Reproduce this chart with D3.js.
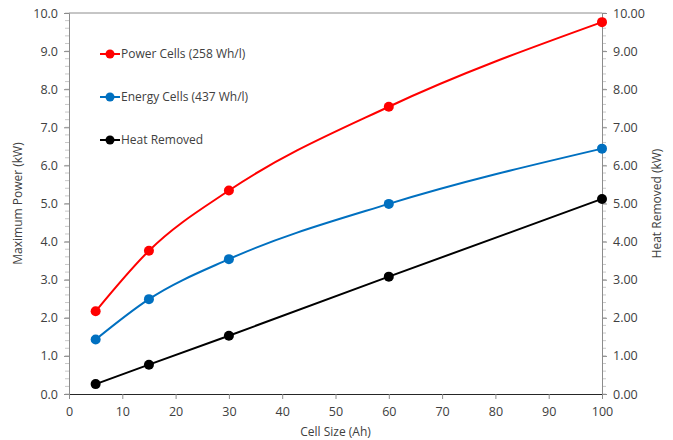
<!DOCTYPE html>
<html>
<head>
<meta charset="utf-8">
<script src="https://cdn.jsdelivr.net/npm/d3@7"></script>
<style>
  body { margin: 0; background: #fff; }
  text { font-family: "Open Sans", "Noto Sans", sans-serif; fill: #404040; }
</style>
</head>
<body>
<script>
const cellSize = [5, 15, 30, 60, 100];
const powerCells = [2.17, 3.76, 5.34, 7.54, 9.76];
const energyCells = [1.43, 2.49, 3.54, 4.99, 6.44];
const heatRemoved = [0.26, 0.77, 1.53, 3.08, 5.12];
const seriesNames = ["Power Cells (258 Wh/l)", "Energy Cells (437 Wh/l)", "Heat Removed"];

const width = 673, height = 440;
const margin = { top: 13, right: 71, bottom: 46, left: 69 };

const svg = d3.select("body").append("svg")
  .attr("width", width)
  .attr("height", height);

const x = d3.scaleLinear([0, 100], [margin.left, width - margin.right]);
const yL = d3.scaleLinear([0, 10], [height - margin.bottom, margin.top]);
const yR = d3.scaleLinear([0, 10], [height - margin.bottom, margin.top]);

// top border of plot area
svg.append("line")
  .attr("x1", x(0)).attr("x2", x(100))
  .attr("y1", yL(10)).attr("y2", yL(10))
  .attr("stroke", "#8c8c8c");

// minor ticks on both vertical axes
const minor = d3.range(0, 10.01, 0.2);
svg.append("g").selectAll("line").data(minor).join("line")
  .attr("x1", x(0) - 4).attr("x2", x(0))
  .attr("y1", d => yL(d)).attr("y2", d => yL(d))
  .attr("stroke", "#c8c8c8");
svg.append("g").selectAll("line").data(minor).join("line")
  .attr("x1", x(100)).attr("x2", x(100) + 4)
  .attr("y1", d => yR(d)).attr("y2", d => yR(d))
  .attr("stroke", "#c8c8c8");

const leftAxis = svg.append("g")
  .attr("transform", `translate(${x(0)},0)`)
  .call(d3.axisLeft(yL).ticks(10).tickFormat(d3.format(".1f")).tickSize(5).tickPadding(6));
const rightAxis = svg.append("g")
  .attr("transform", `translate(${x(100)},0)`)
  .call(d3.axisRight(yR).ticks(10).tickFormat(d3.format(".2f")).tickSize(5).tickPadding(6));
const bottomAxis = svg.append("g")
  .attr("transform", `translate(0,${yL(0)})`)
  .call(d3.axisBottom(x).ticks(10).tickSize(5).tickPadding(8));

[leftAxis, rightAxis].forEach(g => {
  g.select(".domain").attr("stroke", "#8c8c8c");
  g.selectAll(".tick line").attr("stroke", "#8c8c8c");
});
bottomAxis.select(".domain").attr("stroke", "#262626");
bottomAxis.selectAll(".tick line").attr("stroke", "#8c8c8c");
svg.selectAll(".tick text").attr("font-size", 12.5).attr("fill", "#404040")
  .attr("font-family", "Open Sans");

// axis titles
svg.append("text")
  .attr("transform", `translate(22,${(yL(0) + yL(10)) / 2}) rotate(-90)`)
  .attr("text-anchor", "middle")
  .attr("font-size", 12)
  .text("Maximum Power (kW)");
svg.append("text")
  .attr("transform", `translate(661,${(yL(0) + yL(10)) / 2}) rotate(-90)`)
  .attr("text-anchor", "middle")
  .attr("font-size", 12)
  .text("Heat Removed (kW)");
svg.append("text")
  .attr("x", (x(0) + x(100)) / 2)
  .attr("y", 436)
  .attr("text-anchor", "middle")
  .attr("font-size", 12)
  .text("Cell Size (Ah)");

const series = [
  { name: seriesNames[0], values: powerCells, color: "#ff0000", y: yL, curve: d3.curveMonotoneX },
  { name: seriesNames[1], values: energyCells, color: "#0070c0", y: yL, curve: d3.curveMonotoneX },
  { name: seriesNames[2], values: heatRemoved, color: "#000000", y: yR, curve: d3.curveLinear }
];

series.forEach(s => {
  const pts = cellSize.map((c, i) => [c, s.values[i]]);
  const line = d3.line()
    .x(d => x(d[0]))
    .y(d => s.y(d[1]))
    .curve(s.curve);

  svg.append("path")
    .attr("d", line(pts))
    .attr("fill", "none")
    .attr("stroke", s.color)
    .attr("stroke-width", 2);

  svg.append("g").selectAll("circle").data(pts).join("circle")
    .attr("cx", d => x(d[0]))
    .attr("cy", d => s.y(d[1]))
    .attr("r", 5)
    .attr("fill", s.color);
});

// legend
const legend = svg.append("g").attr("transform", "translate(100,54)");
const item = legend.selectAll("g").data(series).join("g")
  .attr("transform", (d, i) => `translate(0,${i * 43})`);
item.append("line")
  .attr("x1", 0).attr("x2", 20)
  .attr("stroke", d => d.color)
  .attr("stroke-width", 2);
item.append("circle")
  .attr("cx", 10).attr("r", 4.5)
  .attr("fill", d => d.color);
item.append("text")
  .attr("x", 21)
  .attr("dy", "0.35em")
  .attr("font-size", 12)
  .text(d => d.name);
</script>
</body>
</html>
